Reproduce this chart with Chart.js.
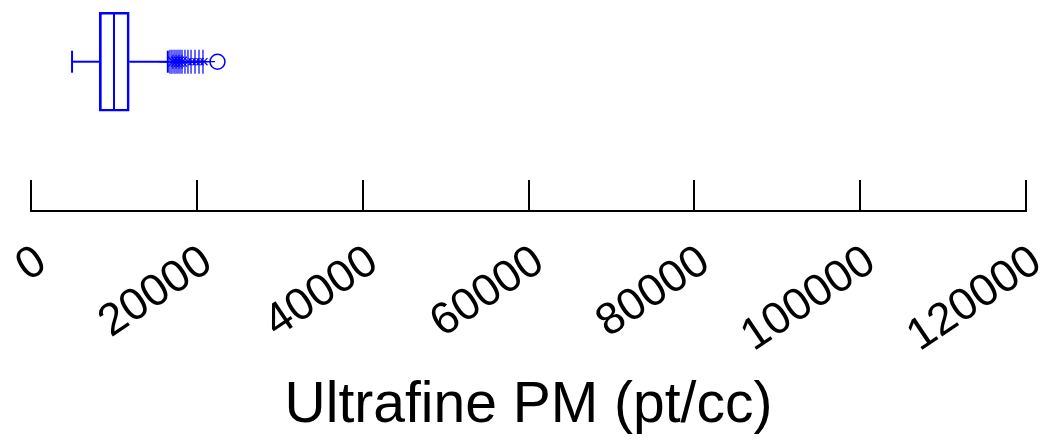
<!DOCTYPE html>
<html>
<head>
<meta charset="utf-8">
<script src="https://cdn.jsdelivr.net/npm/chart.js@4/dist/chart.umd.min.js"></script>
<style>
  html, body { margin: 0; padding: 0; background: #fff; }
  #wrap { width: 1046px; height: 440px; }
</style>
</head>
<body>
<div id="wrap"><canvas id="chart" width="1046" height="440"></canvas></div>
<script>
// box plot of ultrafine particle counts, drawn as a floating bar plus scatter marks
const categories = ['Ultrafine PM'];
const whiskerLow = [4950];
const quartile1 = [8240];
const median = [10010];
const quartile3 = [11850];
const whiskerHigh = [16500];

// outliers
const outlierTicks = [16760, 17000, 17250, 17490, 17730, 17970, 18210, 18570, 18930, 19300, 19780, 20260, 20740];
const outlierStars = [17120, 17490, 17850, 18210];
const outlierCrosses = [18930, 19420, 19900, 20380, 20860];
const extremeOutliers = [22490];

const tickValues = [0, 20000, 40000, 60000, 80000, 100000, 120000];

const blue = '#0000ff';
const fontFamily = '"Liberation Sans", Arial, Helvetica, sans-serif';
const row = 1; // position of the single box on the hidden y scale

function at(values) {
  return values.map(v => ({ x: v, y: row }));
}

// MATLAB-style ticks pointing up into the plot
const upTicks = {
  id: 'upTicks',
  afterDraw(chart) {
    const scale = chart.scales.x;
    const ctx = chart.ctx;
    ctx.save();
    ctx.strokeStyle = '#000';
    ctx.lineWidth = 2;
    ctx.beginPath();
    scale.ticks.forEach(t => {
      const px = Math.round(scale.getPixelForValue(t.value));
      ctx.moveTo(px, scale.top + 1);
      ctx.lineTo(px, scale.top - 31);
    });
    ctx.stroke();
    ctx.restore();
  }
};

const markerBase = {
  type: 'scatter',
  showLine: false,
  borderColor: blue,
  backgroundColor: 'rgba(0,0,0,0)',
  pointBorderWidth: 1.2
};

new Chart(document.getElementById('chart'), {
  type: 'scatter',
  data: {
    labels: categories,
    datasets: [
      {
        type: 'bar',
        indexAxis: 'y',
        grouped: false,
        data: [{ x: [quartile1[0], quartile3[0]], y: row }],
        borderColor: blue,
        backgroundColor: 'rgba(0,0,0,0)',
        borderWidth: 2,
        borderSkipped: false,
        barThickness: 99
      },
      {
        type: 'scatter',
        data: [{ x: whiskerLow[0], y: row }, { x: quartile1[0], y: row }],
        showLine: true,
        borderColor: blue,
        borderWidth: 2,
        pointRadius: 0
      },
      {
        type: 'scatter',
        data: [{ x: quartile3[0], y: row }, { x: whiskerHigh[0], y: row }],
        showLine: true,
        borderColor: blue,
        borderWidth: 2,
        pointRadius: 0
      },
      {
        // median line and whisker caps
        type: 'scatter',
        data: at(median),
        pointStyle: 'line',
        rotation: 90,
        pointRadius: 49,
        borderColor: blue,
        pointBorderWidth: 2
      },
      {
        type: 'scatter',
        data: at([whiskerLow[0], whiskerHigh[0]]),
        pointStyle: 'line',
        rotation: 90,
        pointRadius: 11,
        borderColor: blue,
        pointBorderWidth: 2
      },
      { ...markerBase, data: at(outlierTicks), pointStyle: 'cross', pointRadius: 12 },
      { ...markerBase, data: at(outlierStars), pointStyle: 'star', pointRadius: 7 },
      { ...markerBase, data: at(outlierCrosses), pointStyle: 'crossRot', pointRadius: 5 },
      { ...markerBase, data: at(extremeOutliers), pointStyle: 'circle', pointRadius: 7.5, pointBorderWidth: 1.5 }
    ]
  },
  options: {
    responsive: false,
    animation: false,
    events: [],
    layout: { autoPadding: false, padding: { top: 2, left: 31, right: 20, bottom: 0 } },
    plugins: {
      legend: { display: false },
      tooltip: { enabled: false }
    },
    scales: {
      x: {
        type: 'linear',
        position: 'bottom',
        offset: false,
        min: tickValues[0],
        max: tickValues[tickValues.length - 1],
        afterBuildTicks(scale) {
          scale.ticks = tickValues.map(v => ({ value: v }));
        },
        afterFit(scale) {
          scale.height = 229;
          scale.paddingLeft = 0;
          scale.paddingRight = 0;
        },
        grid: { display: false, drawTicks: false },
        border: { display: true, color: '#000', width: 2 },
        ticks: {
          color: '#000',
          font: { family: fontFamily, size: 45 },
          minRotation: 34,
          maxRotation: 34,
          padding: 24,
          labelOffset: 11,
          autoSkip: false,
          callback: v => String(v)
        },
        title: {
          display: true,
          text: 'Ultrafine PM (pt/cc)',
          color: '#000',
          font: { family: fontFamily, size: 57 },
          padding: { top: 0, bottom: 0 }
        }
      },
      y: {
        type: 'linear',
        display: false,
        offset: false,
        min: 0,
        max: 1.4
      }
    }
  },
  plugins: [upTicks]
});
</script>
</body>
</html>
